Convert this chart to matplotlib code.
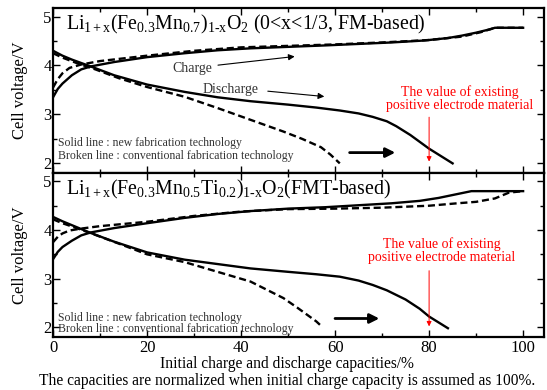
import matplotlib

matplotlib.use('Agg')
import matplotlib.pyplot as plt
from matplotlib.ticker import MultipleLocator

plt.rcParams['font.family'] = ['Liberation Serif', 'DejaVu Serif']
plt.rcParams['mathtext.fontset'] = 'custom'
plt.rcParams['mathtext.rm'] = 'Liberation Serif'
plt.rcParams['mathtext.it'] = 'Liberation Serif:italic'

# --- FM-based (top panel) ---
fm_title = r'Li$_{\mathrm{1+x}}$(Fe$_{\mathrm{0.3}}$Mn$_{\mathrm{0.7}}$)$_{\mathrm{1\text{-}x}}$O$_{\mathrm{2}}$ (0<x<1/3, FM-based)'
fm_charge_solid_x = [0, 1, 2, 4, 6, 8, 13, 20, 28, 35, 42, 50, 58, 65, 72, 79, 84, 87, 90, 93, 94, 100]
fm_charge_solid_y = [3.35, 3.52, 3.63, 3.80, 3.92, 3.98, 4.07, 4.17, 4.25, 4.31, 4.35, 4.38, 4.41, 4.44, 4.47,
                     4.51, 4.56, 4.61, 4.67, 4.74, 4.77, 4.77]
fm_charge_dash_x = [0, 1, 2, 3.5, 6, 10, 20, 30, 40, 50, 60, 70, 80, 87, 91, 94, 100]
fm_charge_dash_y = [3.55, 3.72, 3.84, 3.95, 4.02, 4.09, 4.20, 4.30, 4.37, 4.40, 4.43, 4.47, 4.52, 4.59, 4.68, 4.77, 4.77]
fm_dis_solid_x = [0, 2, 4, 8, 13, 20, 28, 35, 42, 50, 56, 61, 65, 68, 71, 73, 76, 78, 80, 82, 85]
fm_dis_solid_y = [4.30, 4.20, 4.12, 3.98, 3.80, 3.61, 3.46, 3.35, 3.27, 3.20, 3.14, 3.08, 3.02, 2.95, 2.86, 2.76,
                  2.58, 2.44, 2.30, 2.18, 2.00]
fm_dis_dash_x = [0, 2, 5, 9, 14, 20, 28, 35, 42, 49, 53, 57, 59, 61]
fm_dis_dash_y = [4.25, 4.16, 4.05, 3.92, 3.74, 3.56, 3.36, 3.13, 2.89, 2.65, 2.50, 2.33, 2.18, 2.00]

# --- FMT-based (bottom panel) ---
fmt_title = r'Li$_{\mathrm{1+x}}$(Fe$_{\mathrm{0.3}}$Mn$_{\mathrm{0.5}}$Ti$_{\mathrm{0.2}}$)$_{\mathrm{1\text{-}x}}$O$_{\mathrm{2}}$(FMT-based)'
fmt_charge_solid_x = [0, 1, 2, 4, 6, 8, 13, 20, 28, 35, 42, 50, 58, 65, 72, 78, 82, 86, 89, 100]
fmt_charge_solid_y = [3.40, 3.55, 3.65, 3.78, 3.89, 3.95, 4.04, 4.14, 4.25, 4.33, 4.39, 4.44, 4.47, 4.51, 4.55,
                      4.60, 4.66, 4.74, 4.80, 4.80]
fmt_charge_dash_x = [0, 1, 2, 3.5, 6, 10, 20, 30, 40, 50, 60, 70, 80, 86, 90, 94, 97, 100]
fmt_charge_dash_y = [3.75, 3.86, 3.93, 3.99, 4.03, 4.08, 4.17, 4.29, 4.38, 4.43, 4.44, 4.46, 4.50, 4.55, 4.58,
                     4.65, 4.77, 4.80]
fmt_dis_solid_x = [0, 2, 4, 8, 13, 20, 28, 35, 42, 50, 56, 61, 65, 68, 71, 75, 78, 80, 82, 84]
fmt_dis_solid_y = [4.27, 4.18, 4.10, 3.94, 3.76, 3.54, 3.39, 3.30, 3.21, 3.14, 3.09, 3.04, 2.96, 2.87, 2.76,
                   2.57, 2.38, 2.22, 2.10, 1.98]
fmt_dis_dash_x = [0, 2, 5, 9, 14, 20, 28, 35, 42, 49, 52, 54, 56, 57]
fmt_dis_dash_y = [4.22, 4.14, 4.04, 3.90, 3.72, 3.50, 3.34, 3.14, 2.94, 2.60, 2.40, 2.26, 2.12, 2.03]

solid_label = 'Solid line : new fabrication technology'
broken_label = 'Broken line : conventional fabrication technology'
red_label = 'The value of existing\npositive electrode material'
x_ticks = [0, 20, 40, 60, 80, 100]
y_ticks = [2, 3, 4, 5]

fig = plt.figure(figsize=(5.47, 3.90), dpi=100)
ax_top = fig.add_axes([0.097, 0.556, 0.898, 0.423])
ax_bot = fig.add_axes([0.097, 0.136, 0.898, 0.420])

panels = [
    (ax_top, fm_title, fm_charge_solid_x, fm_charge_solid_y, fm_charge_dash_x, fm_charge_dash_y,
     fm_dis_solid_x, fm_dis_solid_y, fm_dis_dash_x, fm_dis_dash_y),
    (ax_bot, fmt_title, fmt_charge_solid_x, fmt_charge_solid_y, fmt_charge_dash_x, fmt_charge_dash_y,
     fmt_dis_solid_x, fmt_dis_solid_y, fmt_dis_dash_x, fmt_dis_dash_y),
]

for ax, title, csx, csy, cdx, cdy, dsx, dsy, ddx, ddy in panels:
    ax.plot(csx, csy, color='black', lw=1.7)
    ax.plot(dsx, dsy, color='black', lw=1.7)
    ax.plot(cdx, cdy, color='black', lw=1.7, ls=(0, (3, 1.6)))
    ax.plot(ddx, ddy, color='black', lw=1.7, ls=(0, (3, 1.6)))
    ax.set_xlim(0, 104.5)
    ax.set_ylim(1.8, 5.17)
    ax.set_xticks(x_ticks)
    ax.set_yticks(y_ticks)
    ax.xaxis.set_minor_locator(MultipleLocator(10))
    ax.yaxis.set_minor_locator(MultipleLocator(0.5))
    ax.tick_params(which='both', direction='in', top=True, right=True, labelsize=12, width=1)
    ax.tick_params(which='major', length=5)
    ax.tick_params(which='minor', length=3)
    ax.tick_params(axis='y', pad=1)
    ax.tick_params(axis='x', pad=2)
    for sp in ax.spines.values():
        sp.set_linewidth(1.6)
    ax.set_ylabel('Cell voltage/V', fontsize=12)
    ax.yaxis.set_label_coords(-0.052, 0.5)
    ax.text(2.8, 4.83, title, fontsize=14.3, va='center', ha='left')

ax_top.tick_params(labelbottom=False)

# top panel annotations
ax_top.text(25.3, 3.94, 'Charge', fontsize=10, va='center', ha='left', color='#333333')
ax_top.annotate('', xy=(52, 4.19), xytext=(34.5, 4.0),
                arrowprops=dict(arrowstyle='-|>', color='black', lw=0.8, mutation_scale=9))
ax_top.text(31.9, 3.50, 'Discharge', fontsize=10, va='center', ha='left', color='#333333')
ax_top.annotate('', xy=(58.3, 3.36), xytext=(45.1, 3.48),
                arrowprops=dict(arrowstyle='-|>', color='black', lw=0.8, mutation_scale=9))
ax_top.text(1.0, 2.41, solid_label, fontsize=8.5, va='center', ha='left', color='#333333')
ax_top.text(1.0, 2.16, broken_label, fontsize=8.5, va='center', ha='left', color='#333333')
ax_top.annotate('', xy=(73.4, 2.22), xytext=(62.5, 2.22),
                arrowprops=dict(arrowstyle='-|>', color='black', lw=2, mutation_scale=14))
ax_top.text(86.5, 3.33, red_label, fontsize=10, va='center', ha='center', color='red', linespacing=1.0)
ax_top.annotate('', xy=(80, 1.98), xytext=(80, 3.0),
                arrowprops=dict(arrowstyle='-|>', color='red', lw=0.7, mutation_scale=7))

# bottom panel annotations
ax_bot.text(1.0, 2.20, solid_label, fontsize=8.5, va='center', ha='left', color='#333333')
ax_bot.text(1.0, 1.96, broken_label, fontsize=8.5, va='center', ha='left', color='#333333')
ax_bot.annotate('', xy=(70, 2.18), xytext=(59.4, 2.18),
                arrowprops=dict(arrowstyle='-|>', color='black', lw=2, mutation_scale=14))
ax_bot.text(82.6, 3.57, red_label, fontsize=10, va='center', ha='center', color='red', linespacing=1.0)
ax_bot.annotate('', xy=(80, 1.96), xytext=(80, 3.22),
                arrowprops=dict(arrowstyle='-|>', color='red', lw=0.7, mutation_scale=7))

fig.text(0.525, 0.066, 'Initial charge and discharge capacities/%', fontsize=11.2, ha='center', va='center')
fig.text(0.525, 0.024, 'The capacities are normalized when initial charge capacity is assumed as 100%.',
         fontsize=11.2, ha='center', va='center')

fig.savefig('out.png', dpi=100)
plt.close(fig)
